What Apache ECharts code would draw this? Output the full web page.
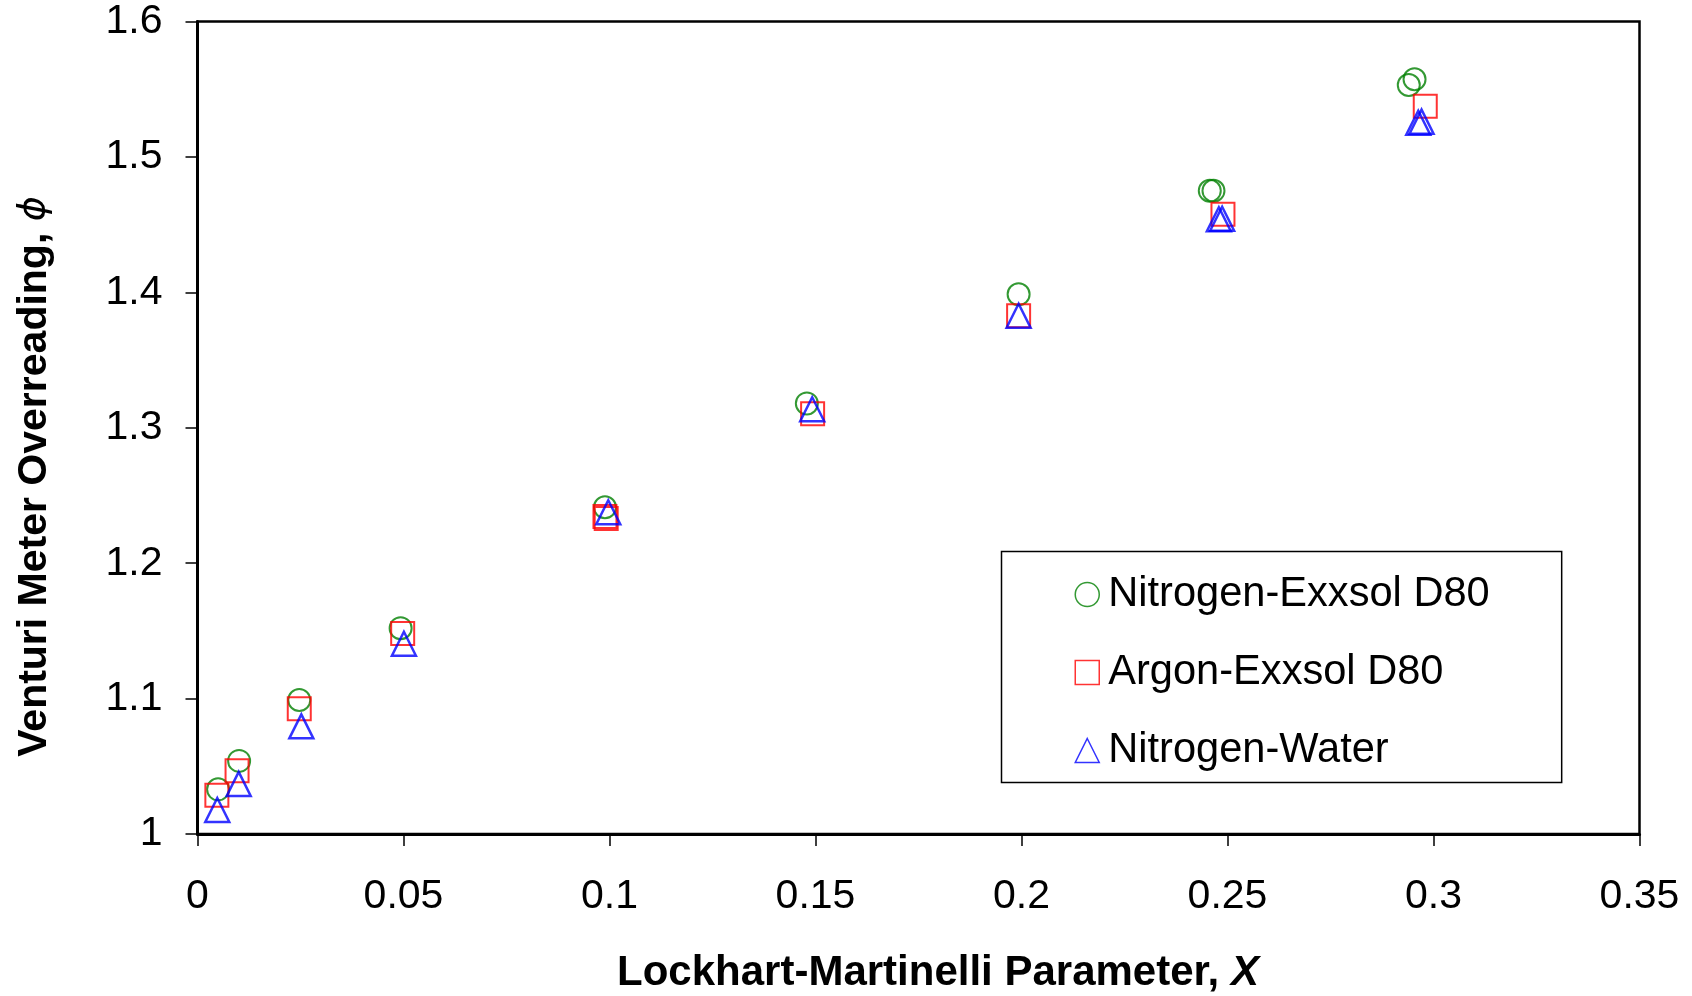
<!DOCTYPE html>
<html>
<head>
<meta charset="utf-8">
<script src="https://cdn.jsdelivr.net/npm/echarts@6/dist/echarts.min.js"></script>
<style>
html,body{margin:0;padding:0;background:#fff;}
#chart{width:1692px;height:996px;}
</style>
</head>
<body>
<div id="chart"></div>
<script>
// ---- data ----
const seriesNames = ['Nitrogen-Exxsol D80', 'Argon-Exxsol D80', 'Nitrogen-Water'];

const n2ExxsolX = [0.0050, 0.0101, 0.0247, 0.0493, 0.0989, 0.1479, 0.1993, 0.2457, 0.2466, 0.2940, 0.2954];
const n2ExxsolY = [1.033, 1.054, 1.099, 1.152, 1.2413, 1.318, 1.3986, 1.4751, 1.4751, 1.5532, 1.5574];

const arExxsolX = [0.0047, 0.0096, 0.0247, 0.0498, 0.0989, 0.0992, 0.1493, 0.1993, 0.2489, 0.2980];
const arExxsolY = [1.0286, 1.0468, 1.0925, 1.148, 1.2344, 1.2330, 1.3104, 1.3828, 1.4577, 1.5374];

const n2WaterX = [0.0048, 0.0100, 0.0252, 0.0501, 0.0997, 0.1492, 0.1993, 0.2479, 0.2487, 0.2963, 0.2971];
const n2WaterY = [1.0177, 1.037, 1.0795, 1.1405, 1.2376, 1.3137, 1.3828, 1.454, 1.4544, 1.5253, 1.5261];

const xTitle = 'Lockhart-Martinelli Parameter, ';
const xTitleVar = 'X';
const yTitle = 'Venturi Meter Overreading, ';
const yTitleVar = '\u03D5';

function pairs(xs, ys) { return xs.map((x, i) => [x, ys[i]]); }

const FONT = '"Liberation Sans", Arial, sans-serif';
const chart = echarts.init(document.getElementById('chart'), null, {renderer: 'canvas'});

const axisCommon = {
  type: 'value',
  axisLine: {show: true, onZero: false, lineStyle: {color: '#000', width: 3}},
  axisTick: {show: true, inside: false, length: 12, lineStyle: {color: '#000', width: 1.5}},
  splitLine: {show: false},
};

chart.setOption({
  animation: false,
  backgroundColor: '#fff',
  grid: {left: 197.5, right: 52.5, top: 21.6, bottom: 162, show: true, borderColor: '#000', borderWidth: 2.5, backgroundColor: 'transparent'},
  xAxis: Object.assign({}, axisCommon, {
    min: 0, max: 0.35, interval: 0.05,
    axisLabel: {color: '#000', fontSize: 41, fontFamily: FONT, margin: 42}
  }),
  yAxis: Object.assign({}, axisCommon, {
    min: 1, max: 1.6, interval: 0.1,
    axisLabel: {color: '#000', fontSize: 41, fontFamily: FONT, margin: 35}
  }),
  legend: {
    orient: 'vertical',
    left: 1001.5, top: 551.5,
    backgroundColor: '#fff',
    borderColor: '#000', borderWidth: 1.5,
    padding: [22, 72, 11, 73],
    itemGap: 36,
    itemWidth: 24, itemHeight: 24,
    itemStyle: {borderWidth: 1.5},
    textStyle: {color: '#000', fontSize: 41.6, fontFamily: FONT, padding: [0, 0, 0, 4]},
    data: seriesNames
  },
  series: [
    {
      name: seriesNames[0], type: 'scatter', symbol: 'circle', symbolSize: 22,
      itemStyle: {color: 'rgba(0,0,0,0)', borderColor: '#008000', borderWidth: 2},
      data: pairs(n2ExxsolX, n2ExxsolY), z: 2
    },
    {
      name: seriesNames[1], type: 'scatter', symbol: 'rect', symbolSize: 23,
      itemStyle: {color: 'rgba(0,0,0,0)', borderColor: '#FF0000', borderWidth: 2},
      data: pairs(arExxsolX, arExxsolY), z: 3
    },
    {
      name: seriesNames[2], type: 'scatter', symbol: 'triangle', symbolSize: 24,
      itemStyle: {color: 'rgba(0,0,0,0)', borderColor: '#0000FF', borderWidth: 2.5},
      data: pairs(n2WaterX, n2WaterY), z: 4
    }
  ],
  graphic: [
    {
      type: 'text', x: 938, y: 973,
      style: {
        text: '{b|' + xTitle + '}{i|' + xTitleVar + '}',
        align: 'center', verticalAlign: 'middle',
        rich: {
          b: {fontSize: 42, fontWeight: 'bold', fontFamily: FONT, fill: '#000'},
          i: {fontSize: 42, fontWeight: 'bold', fontStyle: 'italic', fontFamily: FONT, fill: '#000'}
        }
      }
    },
    {
      type: 'text', x: 34.5, y: 476.5, rotation: Math.PI / 2,
      style: {
        text: '{b|' + yTitle + '}{i|' + yTitleVar + '}',
        align: 'center', verticalAlign: 'middle',
        rich: {
          b: {fontSize: 41, fontWeight: 'bold', fontFamily: FONT, fill: '#000'},
          i: {fontSize: 38, fontWeight: 'normal', fontStyle: 'italic', fontFamily: '"DejaVu Sans", ' + FONT, fill: '#000'}
        }
      }
    }
  ]
});
</script>
</body>
</html>
